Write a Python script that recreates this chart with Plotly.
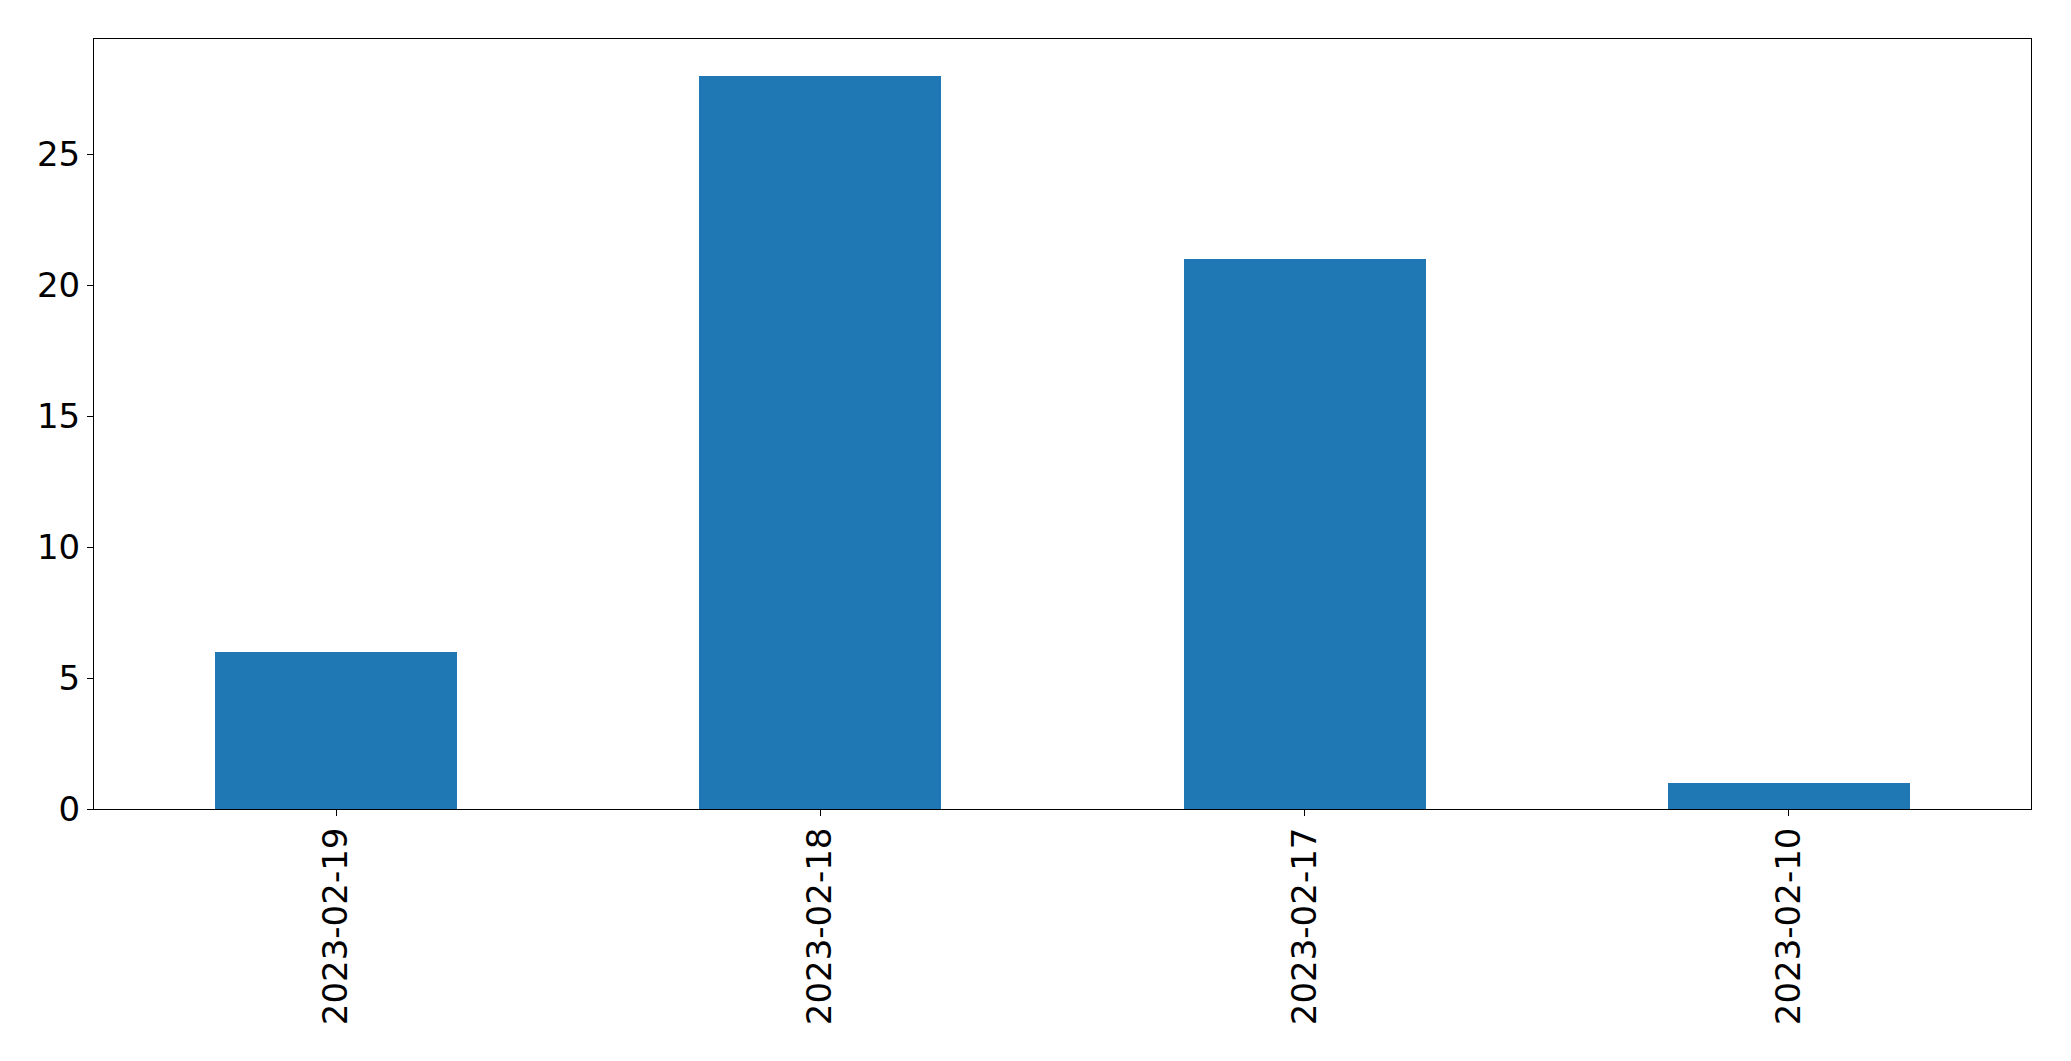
import plotly.graph_objects as go

categories = ["2023-02-19", "2023-02-18", "2023-02-17", "2023-02-10"]
values = [6, 28, 21, 1]
y_ticks = [0, 5, 10, 15, 20, 25]

fig = go.Figure(go.Bar(
    x=list(range(len(categories))),
    y=values,
    width=0.5,
    marker=dict(color="#1f77b4", line=dict(width=0)),
))

fig.update_layout(
    width=2063, height=1053,
    margin=dict(l=86, r=40, t=31, b=252),
    plot_bgcolor="white", paper_bgcolor="white",
    font=dict(family="DejaVu Sans", size=34, color="black"),
    showlegend=False,
    bargap=0,
)
fig.update_xaxes(
    range=[-0.5, len(categories) - 0.5],
    tickmode="array", tickvals=list(range(len(categories))), ticktext=categories,
    tickangle=-90,
    showline=True, linecolor="black", linewidth=1, mirror=True,
    ticks="outside", ticklen=6, tickcolor="black", tickwidth=1,
    showgrid=False, zeroline=False,
    ticklabelstandoff=-2,
)
fig.update_yaxes(
    range=[0, max(values) * 1.05],
    tickmode="array", tickvals=y_ticks,
    showline=True, linecolor="black", linewidth=1, mirror=True,
    ticks="outside", ticklen=6, tickcolor="black", tickwidth=1,
    showgrid=False, zeroline=False,
    ticklabelstandoff=0,
)

fig.write_html("out.html")
